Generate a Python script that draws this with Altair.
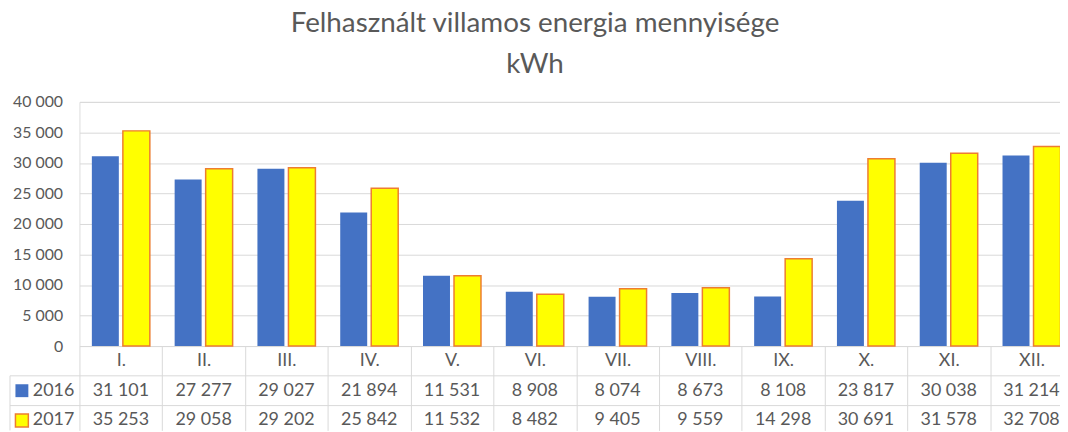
import altair as alt
import pandas as pd

months = ["I.", "II.", "III.", "IV.", "V.", "VI.", "VII.", "VIII.", "IX.", "X.", "XI.", "XII."]
years = ["2016", "2017"]
v2016 = [31101, 27277, 29027, 21894, 11531, 8908, 8074, 8673, 8108, 23817, 30038, 31214]
v2017 = [35253, 29058, 29202, 25842, 11532, 8482, 9405, 9559, 14298, 30691, 31578, 32708]
y_ticks = [0, 5000, 10000, 15000, 20000, 25000, 30000, 35000, 40000]

FONT = "Lato"
TXT = "#595959"
GRID = "#d9d9d9"
BLUE = "#4472C4"
YELLOW = "#FFFF00"
ORANGE = "#ED7D31"

rows = []
for y, vals in zip(years, [v2016, v2017]):
    for m, v in zip(months, vals):
        rows.append({"month": m, "year": y, "value": v,
                     "label": f"{v:,}".replace(",", " ")})
df = pd.DataFrame(rows)

xscale = alt.Scale(domain=months, range=[0, 1001], paddingInner=0, paddingOuter=0)

bars = alt.Chart(df).mark_bar().encode(
    x=alt.X("month:N", sort=months, scale=xscale, title=None,
            axis=alt.Axis(tickBand="extent", ticks=True, tickSize=85, tickColor=GRID,
                          tickWidth=1, domainColor=GRID, domainWidth=1,
                          labelPadding=-70, labelBaseline="middle", labelAngle=0,
                          labelFont=FONT, labelFontSize=18, labelColor=TXT, grid=False)),
    xOffset=alt.XOffset("year:N", scale=alt.Scale(domain=years, paddingInner=0.13, paddingOuter=0.4)),
    y=alt.Y("value:Q", scale=alt.Scale(domain=[0, 40000], nice=False), title=None,
            axis=alt.Axis(values=y_ticks, domain=False, ticks=False, grid=True,
                          gridColor=GRID, gridWidth=1, labelPadding=17,
                          labelFont=FONT, labelFontSize=16, labelColor=TXT,
                          labelExpr="replace(format(datum.value, ','), ',', ' ')")),
    color=alt.Color("year:N", scale=alt.Scale(domain=years, range=[BLUE, YELLOW]), legend=None),
    stroke=alt.Stroke("year:N", scale=alt.Scale(domain=years, range=[BLUE, ORANGE]), legend=None),
    strokeWidth=alt.StrokeWidth("year:N", scale=alt.Scale(domain=years, range=[0, 1.5]), legend=None),
)

one = pd.DataFrame({"k": [0]})
hline1 = alt.Chart(one).mark_rule(color=GRID, strokeWidth=1).encode(
    x=alt.value(-70), x2=alt.value(1001), y=alt.value(276))
hline2 = alt.Chart(one).mark_rule(color=GRID, strokeWidth=1).encode(
    x=alt.value(-70), x2=alt.value(1001), y=alt.value(306))
vline = alt.Chart(one).mark_rule(color=GRID, strokeWidth=1).encode(
    x=alt.value(-70), y=alt.value(276), y2=alt.value(331))

row_y = {"2016": 291, "2017": 321}
layers = [bars, hline1, hline2, vline]
for y in years:
    sub = df[df["year"] == y]
    layers.append(
        alt.Chart(sub).mark_text(font=FONT, fontSize=18, color=TXT, baseline="middle", align="center").encode(
            x=alt.X("month:N", sort=months, scale=xscale),
            y=alt.value(row_y[y]),
            text="label:N",
        )
    )
    key = pd.DataFrame({"year": [y]})
    layers.append(
        alt.Chart(key).mark_point(shape="square", filled=True, size=169,
                                  fill=BLUE if y == "2016" else YELLOW,
                                  stroke=BLUE if y == "2016" else ORANGE,
                                  strokeWidth=0 if y == "2016" else 1.5, opacity=1).encode(
            x=alt.value(-58), y=alt.value(row_y[y]))
    )
    layers.append(
        alt.Chart(key).mark_text(font=FONT, fontSize=18, color=TXT, baseline="middle", align="left").encode(
            x=alt.value(-47), y=alt.value(row_y[y]), text="year:N")
    )

chart = alt.layer(*layers).properties(
    width=988, height=246,
    autosize=alt.AutoSizeParams(type="none"),
    padding={"left": 72, "top": 93, "right": 0, "bottom": 85},
    title=alt.TitleParams(text=["Felhasznált villamos energia mennyisége", "kWh"],
                          font=FONT, fontSize=28, fontWeight="normal", color=TXT,
                          anchor="middle", dx=-35, dy=-11, lineHeight=41.6),
).configure_view(stroke=None).configure(background="white")

chart.save("out.html", embed_options={"renderer": "svg", "actions": False})
